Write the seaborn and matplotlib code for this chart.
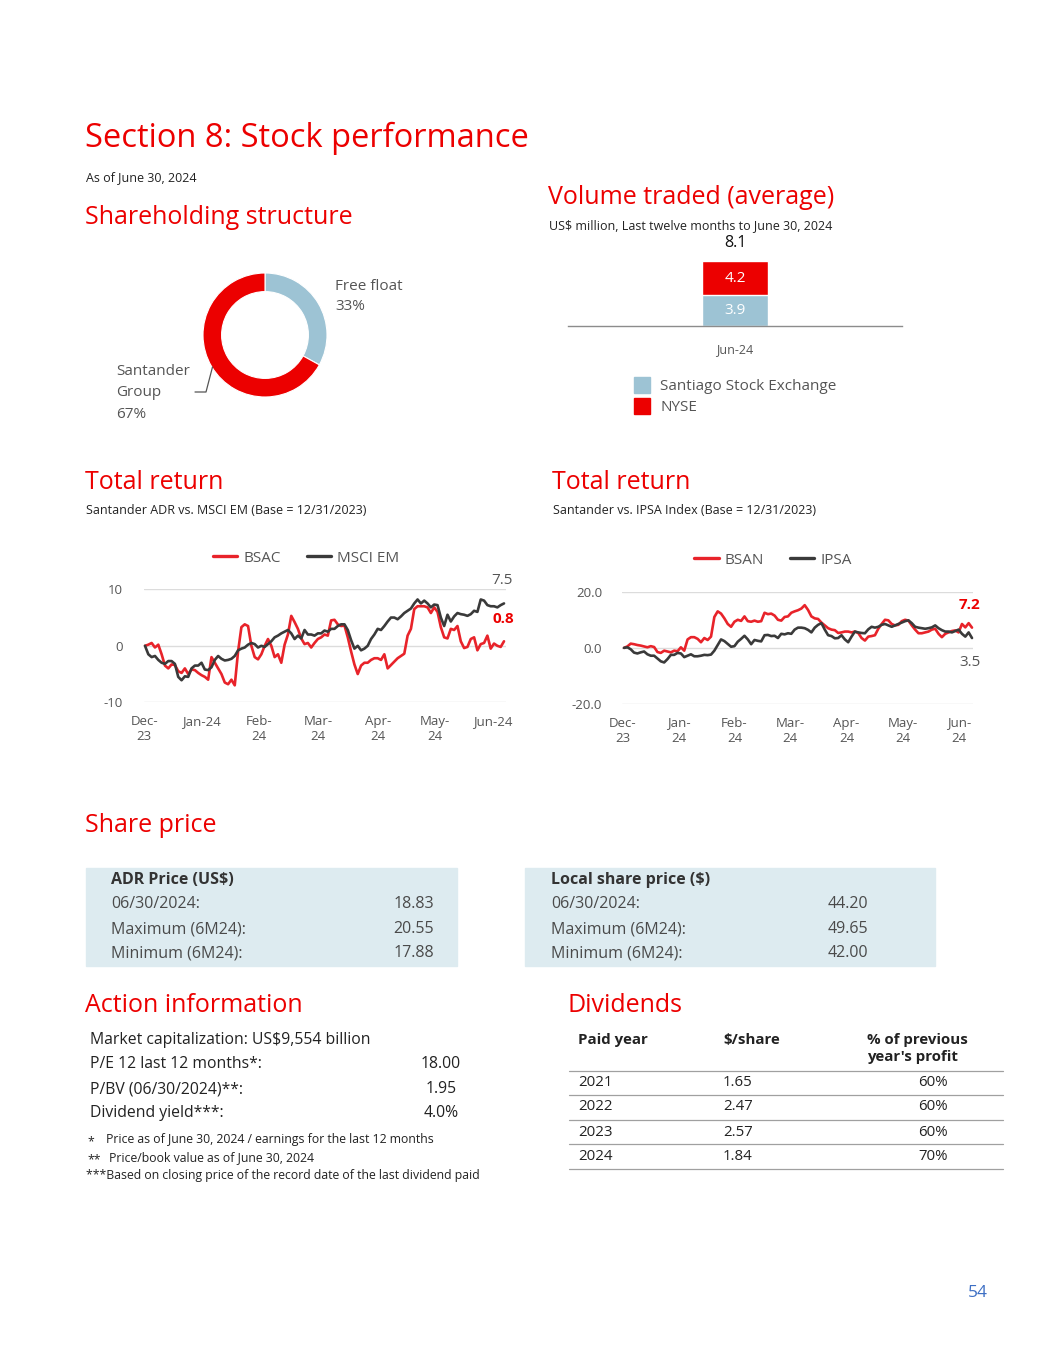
import numpy as np
import pandas as pd
import matplotlib
matplotlib.use("Agg")
import matplotlib.pyplot as plt
from matplotlib.patches import Rectangle
from matplotlib.lines import Line2D
import seaborn as sns

# ---------------- DATA ----------------
# Shareholding structure
share_labels = ["Free float", "Santander Group"]
share_values = [33, 67]

# Volume traded (US$ million)
vol_period = ["Jun-24"]
vol_santiago = [3.9]
vol_nyse = [4.2]
vol_total = [8.1]

# Total return: Santander ADR vs MSCI EM (Base = 12/31/2023)
bsac = [0, 0.2, 0.5, -0.3, 0.2, -1.5, -3.5, -4, -3.3, -3.4, -4.5, -4.8, -4, -5, -4.2, -4.3,
        -4.8, -5.2, -5.5, -6, -2, -3, -4, -5, -6.5, -6.8, -6, -7, -1, 3.3, 3.8, 3.5, 0, -2,
        -2.4, -1.5, 0, 1.2, 0, -2, -1.5, -3, 0.2, 2, 5.3, 4.2, 3, 1.3, 0.3, 0.5, -0.3, 0.5,
        1.2, 1.5, 2, 1.8, 4.5, 4.6, 3.8, 3.5, 3.6, 1.5, -1, -3.3, -5, -3.5, -3, -3, -2.5,
        -2.2, -2.2, -2.5, -1.5, -4, -3.4, -2.8, -2.2, -1.8, -1.4, 1.8, 3, 6.5, 7, 7, 7, 6.8,
        5.8, 6.8, 6, 3.3, 1.5, 1.3, 3, 2.8, 3.5, 0.8, -0.4, -0.2, 1.2, 1.5, -0.8, 0.3, 0.5,
        1.8, -0.5, 0.4, 0, -0.2, 0.8]
msci_em = [0, -1.5, -2, -1.8, -2.5, -3, -3.2, -2.7, -2.7, -3.2, -5.5, -6.1, -5.4, -5.5, -4,
           -3.5, -3.5, -3, -4.2, -4.3, -3.8, -2.5, -1.8, -2.3, -2.6, -2.5, -2.3, -1.8, -0.8,
           -0.5, -0.3, 0.2, 0.5, 0.3, -0.3, 0, -0.2, 0.3, 0.8, 1.5, 1.8, 2.2, 2.5, 2.8, 2.2,
           1.2, 1.8, 1.3, 2.8, 2, 2, 1.8, 2.2, 2.2, 2.7, 2.5, 3, 3, 3.5, 3.8, 3.8, 2.8, 1,
           -0.5, 0, -0.8, -0.5, 0, 1.2, 2, 3, 2.8, 3.5, 4.3, 5, 5, 4.7, 5.2, 5.8, 6.2, 6.6,
           7.5, 8.2, 7.5, 8, 7.5, 6.8, 7.3, 7.2, 5, 3.5, 5.5, 4.3, 5.2, 5.8, 5.6, 5.5, 5.3,
           5.6, 6.2, 6, 8.2, 8, 7.2, 7, 7, 6.8, 7.2, 7.5]

# Total return: Santander vs IPSA Index (Base = 12/31/2023)
bsan = [0, 0.5, 1.5, 1.3, 1, 0.8, 0.5, 0.2, 0.6, 0.3, -1.5, -1.8, -1, -1.3, -1.6, -1, -1.2,
        0.2, -1, 3, 3.8, 3.8, 3.2, 2, 3.5, 2.8, 4, 11, 13, 12.2, 10.5, 8.5, 7.5, 9.3, 10, 9.6,
        11.2, 9.5, 9.3, 9.7, 9.3, 9.5, 12.5, 12, 12.2, 11.5, 10, 9.7, 11, 11.2, 12.5, 13,
        13.4, 14, 15.2, 13.5, 11.2, 10.5, 10.3, 9, 8, 7, 6.5, 6.3, 5.3, 5.5, 5.8, 5.8, 5.5,
        5.8, 5.3, 3.5, 2.6, 4, 4.2, 4.5, 6.8, 8.5, 10, 9.8, 8.5, 8, 8.2, 9.5, 10, 9.7, 8,
        6.5, 5.2, 5.2, 5.5, 5.8, 6.5, 6.8, 5, 3.8, 5, 5.5, 6, 6.2, 5.5, 8.5, 7.3, 8.8, 7.2]
ipsa = [0, 0.2, -0.5, -1.7, -2, -1.6, -1.3, -2.3, -2.8, -2.8, -3.8, -4.8, -5.2, -4, -2.5,
        -2.5, -1.8, -2, -3.3, -2.8, -2.3, -3, -3, -2.8, -2.5, -2.6, -2.4, -1, 1, 3, 2.4, 1.4,
        0.4, 0.6, 2.2, 3.2, 4.3, 3, 1.3, 2.8, 2.5, 2.3, 4.5, 4.6, 4.2, 4.3, 3.5, 5, 4.8, 5.2,
        5, 6.5, 7.2, 7.2, 7, 6.4, 5.5, 7.2, 8.2, 8.8, 6.5, 4.5, 4.2, 3.4, 3.5, 4.5, 3, 2, 4,
        5.8, 5.5, 5.3, 5.2, 6.6, 7.5, 7.2, 7.5, 8.2, 8.5, 8, 7.5, 8, 8.5, 9, 9.5, 9.8, 8.8,
        7.5, 7.2, 7, 6.8, 7, 7.3, 8, 7, 6.3, 5.8, 5.8, 5.5, 6, 6.5, 5, 4, 5.5, 3.5]

months1 = ["Dec-\n23", "Jan-24", "Feb-\n24", "Mar-\n24", "Apr-\n24", "May-\n24", "Jun-24"]
months2 = ["Dec-\n23", "Jan-\n24", "Feb-\n24", "Mar-\n24", "Apr-\n24", "May-\n24", "Jun-\n24"]
yticks1 = [-10, 0, 10]
yticks2 = [-20, 0, 20]

# Share price tables
adr_rows = ["06/30/2024:", "Maximum (6M24):", "Minimum (6M24):"]
adr_vals = ["18.83", "20.55", "17.88"]
local_rows = ["06/30/2024:", "Maximum (6M24):", "Minimum (6M24):"]
local_vals = ["44.20", "49.65", "42.00"]

# Action information
action_rows = ["P/E 12 last 12 months*:", "P/BV (06/30/2024)**:", "Dividend yield***:"]
action_vals = ["18.00", "1.95", "4.0%"]

# Dividends
div_years = ["2021", "2022", "2023", "2024"]
div_share = ["1.65", "2.47", "2.57", "1.84"]
div_pct = ["60%", "60%", "60%", "70%"]

# ---------------- STYLE ----------------
sns.set_theme(style="white")
plt.rcParams["font.family"] = ["Open Sans", "DejaVu Sans"]

RED = "#EC0000"
LRED = "#E8232A"
DARK = "#3A3A3A"
BLUE = "#9DC3D4"
GREY = "#555555"
BOXC = "#DDEBF0"

W, H = 1055, 1365
fig = plt.figure(figsize=(W / 100, H / 100), dpi=100)


def fx(x):
    return x / W


def fy(y):
    return 1 - y / H


def axes_px(left, top, right, bottom):
    return fig.add_axes([fx(left), fy(bottom), (right - left) / W, (bottom - top) / H])


def txt(x, y, s, size=11, color="#222222", weight="normal", ha="left", va="center", **kw):
    fig.text(fx(x), fy(y), s, fontsize=size, color=color, fontweight=weight, ha=ha, va=va, **kw)


HS = 18  # section heading size

# ---------------- HEADINGS ----------------
txt(85, 138, "Section 8: Stock performance", size=23.5, color=RED)
txt(86, 178, "As of June 30, 2024", size=9)
txt(85, 217, "Shareholding structure", size=HS, color=RED)
txt(548, 197, "Volume traded (average)", size=HS, color=RED)
txt(549, 226, "US$ million, Last twelve months to June 30, 2024", size=9)
txt(85, 482, "Total return", size=HS, color=RED)
txt(86, 510, "Santander ADR vs. MSCI EM (Base = 12/31/2023)", size=9)
txt(552, 482, "Total return", size=HS, color=RED)
txt(553, 510, "Santander vs. IPSA Index (Base = 12/31/2023)", size=9)
txt(85, 826, "Share price", size=HS, color=RED)
txt(85, 1005, "Action information", size=HS, color=RED)
txt(568, 1005, "Dividends", size=HS, color=RED)
txt(978, 1293, "54", size=12.5, color="#3D6FC4", ha="center")

# ---------------- DONUT ----------------
axd = axes_px(265 - 62, 335 - 62, 265 + 62, 335 + 62)
axd.pie(share_values, colors=[BLUE, RED], startangle=90, counterclock=False, radius=1,
        wedgeprops=dict(width=0.3, edgecolor="white", linewidth=0.8))
axd.set_xlim(-1, 1)
axd.set_ylim(-1, 1)
axd.set_aspect("equal")
axd.axis("off")
txt(335, 286, "Free float", size=11, color=GREY)
txt(335, 307, f"{share_values[0]}%", size=11, color=GREY)
txt(116, 372, "Santander", size=11, color=GREY)
txt(116, 393, "Group", size=11, color=GREY)
txt(116, 414, f"{share_values[1]}%", size=11, color=GREY)
fig.add_artist(Line2D([fx(195), fx(206), fx(212.5)], [fy(392), fy(392), fy(367)],
                      color=GREY, lw=0.9))

# ---------------- VOLUME BAR ----------------
axb = axes_px(568, 246, 902, 326)
vol_df = pd.DataFrame({"period": vol_period, "total": vol_total, "santiago": vol_santiago})
sns.barplot(data=vol_df, x="period", y="total", color=RED, saturation=1, width=0.195, ax=axb)
sns.barplot(data=vol_df, x="period", y="santiago", color=BLUE, saturation=1, width=0.195, ax=axb)
axb.set_ylim(0, 10)
axb.set_xlim(-0.5, 0.5)
axb.set_yticks([])
axb.set_xlabel("")
axb.set_ylabel("")
for s in ["top", "left", "right"]:
    axb.spines[s].set_visible(False)
axb.spines["bottom"].set_color("#8C8C8C")
axb.spines["bottom"].set_linewidth(1.0)
axb.tick_params(axis="x", length=0, pad=12, labelsize=9, labelcolor=GREY)
axb.text(0, vol_santiago[0] / 2, f"{vol_santiago[0]:.1f}", color="white", ha="center",
         va="center", fontsize=11)
axb.text(0, vol_santiago[0] + vol_nyse[0] / 2, f"{vol_nyse[0]:.1f}", color="white",
         ha="center", va="center", fontsize=11)
axb.annotate(f"{vol_total[0]:.1f}", (0, vol_total[0]), xytext=(0, 13), textcoords="offset points",
             ha="center", va="center", fontsize=11.5, color="#111111", annotation_clip=False)
fig.add_artist(Rectangle((fx(634), fy(393)), 16 / W, 16 / H, color=BLUE))
fig.add_artist(Rectangle((fx(634), fy(414)), 16 / W, 16 / H, color=RED))
txt(660, 386, "Santiago Stock Exchange", size=11, color=GREY)
txt(660, 407, "NYSE", size=11, color=GREY)


# ---------------- LINE CHARTS ----------------
def line_chart(ax, s1, s2, n1, n2, xlim, yticks, ylabels, ticks, tlabels, ypad):
    df = pd.DataFrame({
        "k": list(range(len(s1))) + list(range(len(s2))),
        "v": s1 + s2,
        "series": [n1] * len(s1) + [n2] * len(s2),
    })
    sns.lineplot(data=df, x="k", y="v", hue="series", palette={n1: LRED, n2: DARK},
                 linewidth=1.9, ax=ax, legend=False, sort=False)
    ax.set_xlim(*xlim)
    ax.set_ylim(yticks[0], yticks[-1])
    ax.set_yticks(yticks)
    ax.set_yticklabels(ylabels)
    ax.set_xticks(ticks)
    ax.set_xticklabels(tlabels, linespacing=1.25)
    for lab in ax.get_xticklabels():
        lab.set_verticalalignment("top")
    ax.set_xlabel("")
    ax.set_ylabel("")
    for s in ax.spines.values():
        s.set_visible(False)
    ax.grid(axis="y", color="#DCDCDC", linewidth=1.0)
    ax.set_axisbelow(True)
    ax.tick_params(axis="both", length=0, labelsize=9.5, labelcolor=GREY)
    ax.tick_params(axis="x", pad=9)
    ax.tick_params(axis="y", pad=ypad)
    for ln in ax.get_lines():
        ln.set_clip_on(False)
    return df


ax1 = axes_px(144, 589.3, 506, 702.3)
line_chart(ax1, bsac, msci_em, "BSAC", "MSCI EM", (-0.3, 108.6), yticks1,
           ["-10", "0", "10"], [-0.2, 17.06, 34.3, 52.0, 70.1, 87.2, 104.7], months1, 15)
ax2 = axes_px(621.7, 591.7, 973, 704)
line_chart(ax2, bsan, ipsa, "BSAN", "IPSA", (-0.69, 104.3), yticks2,
           ["-20.0", "0.0", "20.0"], [-0.4, 16.3, 33.0, 49.7, 66.5, 83.2, 100.1], months2, 14)

for ax, names, cx, cy in [(ax1, ["BSAC", "MSCI EM"], 306, 558), (ax2, ["BSAN", "IPSA"], 773, 560)]:
    handles = [Line2D([0], [0], color=LRED, lw=2.4), Line2D([0], [0], color=DARK, lw=2.4)]
    ax.legend(handles, names, loc="center", bbox_to_anchor=(fx(cx), fy(cy)),
              bbox_transform=fig.transFigure, ncol=2, frameon=False, fontsize=11,
              handlelength=1.6, handletextpad=0.4, columnspacing=1.7, labelcolor=GREY)

txt(502, 580, f"{msci_em[-1]:.1f}", size=11, color=GREY, ha="center")
txt(503, 619, f"{bsac[-1]:.1f}", size=11, color=RED, weight="bold", ha="center")
txt(970, 605, f"{bsan[-1]:.1f}", size=11, color=RED, weight="bold", ha="center")
txt(970, 662, f"{ipsa[-1]:.1f}", size=11, color=GREY, ha="center")

# ---------------- SHARE PRICE BOXES ----------------
fig.add_artist(Rectangle((fx(86), fy(966)), (457 - 86) / W, (966 - 868) / H, color=BOXC, zorder=0))
fig.add_artist(Rectangle((fx(525), fy(966)), (935 - 525) / W, (966 - 868) / H, color=BOXC, zorder=0))
TS = 11.5
txt(111, 880, "ADR Price (US$)", size=TS, weight="bold", color="#333333")
txt(551, 880, "Local share price ($)", size=TS, weight="bold", color="#333333")
for i, y in enumerate([904, 929, 953]):
    txt(111, y, adr_rows[i], size=TS, color="#4A4A4A")
    txt(434, y, adr_vals[i], size=TS, color="#4A4A4A", ha="right")
    txt(551, y, local_rows[i], size=TS, color="#4A4A4A")
    txt(868, y, local_vals[i], size=TS, color="#4A4A4A", ha="right")

# ---------------- ACTION INFORMATION ----------------
AS = 11.3
txt(90, 1040, "Market capitalization: US$9,554 billion", size=AS)
for i, y in enumerate([1064, 1089, 1113]):
    txt(90, y, action_rows[i], size=AS)
    txt(441, y, action_vals[i], size=AS, ha="center")
FS = 8.8
txt(87, 1142, "*", size=FS)
txt(106, 1140, "Price as of June 30, 2024 / earnings for the last 12 months", size=FS)
txt(87, 1160, "**", size=FS)
txt(109, 1158, "Price/book value as of June 30, 2024", size=FS)
txt(86, 1175, "***Based on closing price of the record date of the last dividend paid", size=FS)

# ---------------- DIVIDENDS TABLE ----------------
DS = 10.8
txt(578, 1040, "Paid year", size=DS, weight="bold")
txt(723, 1040, "$/share", size=DS, weight="bold")
txt(867, 1040, "% of previous", size=DS, weight="bold")
txt(867, 1057, "year's profit", size=DS, weight="bold")
for yl in [1071, 1095, 1120, 1144, 1169]:
    fig.add_artist(Line2D([fx(569), fx(1003)], [fy(yl), fy(yl)], color="#A0A0A0", lw=0.9))
for i, y in enumerate([1083, 1107, 1132, 1156]):
    txt(578, y, div_years[i], size=DS)
    txt(723, y, div_share[i], size=DS)
    txt(948, y, div_pct[i], size=DS, ha="right")

fig.savefig("out.png", dpi=100)
